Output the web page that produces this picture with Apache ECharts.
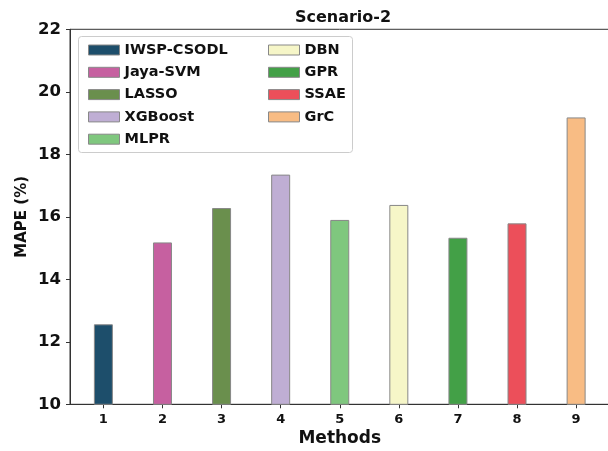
<!DOCTYPE html>
<html>
<head>
<meta charset="utf-8">
<script src="https://cdn.jsdelivr.net/npm/echarts@6/dist/echarts.min.js"></script>
<style>html,body{margin:0;padding:0;background:#fff;}#c{width:608px;height:451px;}</style>
</head>
<body>
<div id="c"></div>
<script>
const methods = ['IWSP-CSODL','Jaya-SVM','LASSO','XGBoost','MLPR','DBN','GPR','SSAE','GrC'];
const positions = [1,2,3,4,5,6,7,8,9];
const mape = [12.56, 15.18, 16.28, 17.35, 15.90, 16.38, 15.33, 15.79, 19.18];
const colors = ['#1d4e6b','#c660a0','#6a8f4d','#bfaed4','#7fc77e','#f6f6c8','#43a047','#ec4f5a','#f8bc84'];
const yTicks = [10,12,14,16,18,20,22];

const FONT = 'DejaVu Sans';
const series = methods.map((m, i) => ({
  name: m,
  type: 'bar',
  barWidth: 19,
  barGap: '-100%',
  data: [[positions[i], mape[i]]],
  itemStyle: { color: colors[i], borderColor: '#888888', borderWidth: 1 },
  emphasis: { disabled: true },
  animation: false
}));

const legendText = { fontFamily: FONT, fontWeight: 'bold', fontSize: 14.5, lineHeight: 16, color: '#111' };
const chart = echarts.init(document.getElementById('c'), null, { renderer: 'canvas' });
chart.setOption({
  animation: false,
  title: {
    text: 'Scenario-2', left: 338, textAlign: 'center', top: 5,
    textStyle: { fontFamily: FONT, fontWeight: 'bold', fontSize: 16, color: '#111' }
  },
  grid: { left: 70, top: 29.3, height: 375, width: 539.5, outerBoundsMode: 'none', containLabel: false,
    show: true, borderColor: '#333', borderWidth: 1, backgroundColor: 'transparent' },
  xAxis: {
    type: 'value', min: 0.435, max: 9.565,
    name: 'Methods', nameLocation: 'middle', nameGap: 26, nameMoveOverlap: false,
    nameTextStyle: { fontFamily: FONT, fontWeight: 'bold', fontSize: 17, color: '#111', verticalAlign: 'top' },
    splitLine: { show: false },
    axisLine: { show: true, lineStyle: { color: '#333' } },
    axisTick: { show: true, customValues: positions, length: 4, lineStyle: { color: '#333' } },
    axisLabel: { customValues: positions, margin: 9, fontFamily: FONT, fontWeight: 'bold', fontSize: 13, color: '#111' }
  },
  yAxis: {
    type: 'value', min: yTicks[0], max: yTicks[yTicks.length - 1], interval: 2,
    name: 'MAPE (%)', nameLocation: 'middle', nameGap: 40, nameMoveOverlap: false,
    nameTextStyle: { fontFamily: FONT, fontWeight: 'bold', fontSize: 15, color: '#111' },
    splitLine: { show: false },
    axisLine: { show: true, lineStyle: { color: '#333' } },
    axisTick: { show: true, length: 4, lineStyle: { color: '#333' } },
    axisLabel: { margin: 9, fontFamily: FONT, fontWeight: 'bold', fontSize: 16.5, color: '#111' }
  },
  legend: [
    { data: methods.slice(0, 5), orient: 'vertical', left: 83, top: 37, itemWidth: 31, itemHeight: 10, itemGap: 6.3,
      textStyle: legendText, selectedMode: false, icon: 'rect',
      itemStyle: { borderColor: '#888', borderWidth: 1 } },
    { data: methods.slice(5), orient: 'vertical', left: 263, top: 37, itemWidth: 31, itemHeight: 10, itemGap: 6.3,
      textStyle: legendText, selectedMode: false, icon: 'rect',
      itemStyle: { borderColor: '#888', borderWidth: 1 } }
  ],
  graphic: [{
    type: 'rect', left: 78, top: 36, z: -1,
    shape: { width: 274, height: 116, r: 3 },
    style: { fill: 'rgba(255,255,255,0.8)', stroke: '#cccccc', lineWidth: 1 }
  }],
  series: series
});
</script>
</body>
</html>
